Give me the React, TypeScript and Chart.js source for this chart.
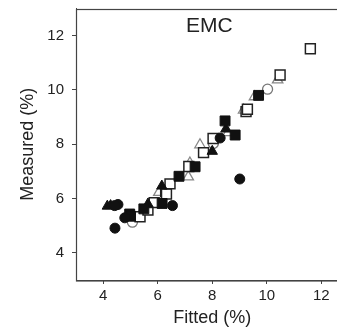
import React, { useEffect, useRef } from "react";
import { Chart, registerables } from "chart.js";

Chart.register(...registerables);

const xTicks = [4, 6, 8, 10, 12];
const yTicks = [4, 6, 8, 10, 12];

const filledCircle = [
  { x: 4.43, y: 4.91 }, { x: 4.54, y: 5.78 }, { x: 4.42, y: 5.74 }, { x: 4.79, y: 5.29 },
  { x: 6.54, y: 5.74 }, { x: 8.29, y: 8.23 }, { x: 9.01, y: 6.72 },
];
const openCircle = [
  { x: 5.07, y: 5.13 }, { x: 8.04, y: 8.03 }, { x: 10.03, y: 10.03 },
];
const filledSquare = [
  { x: 4.97, y: 5.43 }, { x: 5.0, y: 5.35 }, { x: 5.49, y: 5.62 }, { x: 6.16, y: 5.82 },
  { x: 6.78, y: 6.82 }, { x: 7.37, y: 7.17 }, { x: 8.47, y: 8.86 }, { x: 8.84, y: 8.34 },
  { x: 9.7, y: 9.8 },
];
const openSquare = [
  { x: 5.35, y: 5.33 }, { x: 5.64, y: 5.58 }, { x: 5.87, y: 5.85 }, { x: 6.29, y: 6.26 },
  { x: 6.32, y: 6.17 }, { x: 6.45, y: 6.54 }, { x: 7.14, y: 7.18 }, { x: 7.68, y: 7.69 },
  { x: 8.03, y: 8.21 }, { x: 9.24, y: 9.2 }, { x: 9.29, y: 9.29 }, { x: 10.49, y: 10.55 },
  { x: 11.6, y: 11.52 },
];
const filledTriangle = [
  { x: 4.15, y: 5.72 }, { x: 4.27, y: 5.74 }, { x: 5.64, y: 5.8 }, { x: 6.15, y: 6.46 },
  { x: 8.0, y: 7.74 }, { x: 8.5, y: 8.56 },
];
const openTriangle = [
  { x: 5.2, y: 5.27 }, { x: 5.43, y: 5.53 }, { x: 6.04, y: 6.23 }, { x: 7.12, y: 6.8 },
  { x: 7.18, y: 7.31 }, { x: 7.55, y: 7.98 }, { x: 8.58, y: 8.43 }, { x: 9.15, y: 9.26 },
  { x: 9.55, y: 9.75 }, { x: 10.4, y: 10.37 },
];

const FONT = "'Liberation Sans', Arial, Helvetica, sans-serif";
const INK = "#222";

const boxPlugin = {
  id: "boxAndTitle",
  afterDraw(chart: any) {
    const { ctx, chartArea } = chart;
    ctx.save();
    ctx.strokeStyle = "#444";
    ctx.lineWidth = 1.2;
    ctx.strokeRect(Math.round(chartArea.left) + 0.5, Math.round(chartArea.top) + 0.5, chartArea.right - chartArea.left, chartArea.bottom - chartArea.top);
    ctx.fillStyle = INK;
    ctx.font = `21px ${FONT}`;
    ctx.textAlign = "center";
    ctx.textBaseline = "middle";
    ctx.fillText("EMC", (chartArea.left + chartArea.right) / 2 - 3, chartArea.top + 18);
    ctx.restore();
  },
};

export default function App() {
  const ref = useRef<HTMLCanvasElement | null>(null);
  useEffect(() => {
    if (!ref.current) return;
    const mk = (data: any[], style: string, r: number, bg: string, border: string, bw: number) => ({
      data,
      pointStyle: style,
      pointRadius: r,
      pointHoverRadius: r,
      backgroundColor: bg,
      borderColor: border,
      borderWidth: bw,
      showLine: false,
    });
    const chart = new Chart(ref.current, {
      type: "scatter",
      data: {
        datasets: [
          mk(filledCircle, "circle", 5, "#111", "#111", 1),
          mk(filledSquare, "rect", 7, "#111", "#111", 1),
          mk(filledTriangle, "triangle", 6, "#111", "#111", 1),
          mk(openSquare, "rect", 7, "#fff", "#222", 1.5),
          mk(openCircle, "circle", 5, "#fff", "#777", 1.3),
          mk(openTriangle, "triangle", 6, "#fff", "#888", 1.3),
        ] as any,
      },
      options: {
        animation: false,
        responsive: false,
        devicePixelRatio: 1,
        layout: { padding: { top: 7.5, right: 2, left: 0, bottom: 0 } },
        plugins: { legend: { display: false }, tooltip: { enabled: false } },
        scales: {
          x: {
            type: "linear",
            min: 3,
            max: 13,
            afterBuildTicks: (s: any) => { s.ticks = xTicks.map((v) => ({ value: v })); },
            afterFit: (s: any) => { s.height = 49; s.paddingLeft = 0; s.paddingRight = 0; },
            grid: { display: true, drawOnChartArea: false, drawTicks: true, tickLength: 4, color: "#444" },
            border: { display: true, color: "#444" },
            ticks: { color: INK, font: { family: FONT, size: 15 }, padding: 3, maxRotation: 0 },
            title: { display: true, text: "Fitted (%)", color: INK, font: { family: FONT, size: 18 }, padding: { top: 0, bottom: 0 } },
          },
          y: {
            type: "linear",
            min: 3,
            max: 13,
            afterBuildTicks: (s: any) => { s.ticks = yTicks.map((v) => ({ value: v })); },
            afterFit: (s: any) => { s.width = 76; s.paddingTop = 0; s.paddingBottom = 0; },
            grid: { display: true, drawOnChartArea: false, drawTicks: true, tickLength: 4, color: "#444" },
            border: { display: true, color: "#444" },
            ticks: { color: INK, font: { family: FONT, size: 15 }, padding: 8 },
            title: { display: true, text: "Measured (%)", color: INK, font: { family: FONT, size: 18 }, padding: { top: 17, bottom: 0 } },
          },
        },
      } as any,
      plugins: [boxPlugin],
    });
    return () => chart.destroy();
  }, []);
  return (
    <div style={{ position: "fixed", left: 0, top: 0, width: 337, height: 329, overflow: "hidden", background: "#fff" }}>
      <canvas ref={ref} width={357} height={329} style={{ display: "block" }} />
    </div>
  );
}
